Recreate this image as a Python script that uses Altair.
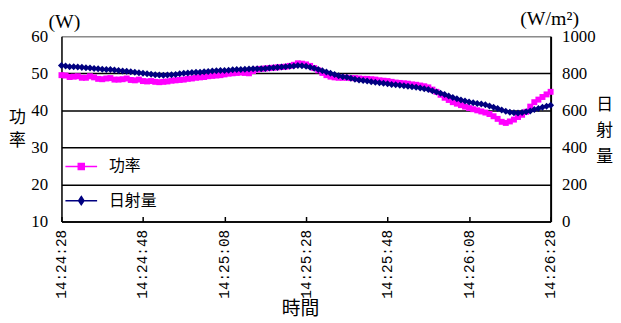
import altair as alt
import pandas as pd

# ---- data ----
tick_labels = ["14:24:28", "14:24:48", "14:25:08", "14:25:28", "14:25:48", "14:26:08", "14:26:28"]
tick_seconds = [0, 20, 40, 60, 80, 100, 120]

power = [
    49.5, 49.4, 49.0, 49.1, 49.2, 48.8, 48.8, 49.2, 48.9, 48.5,
    48.4, 48.6, 48.7, 48.3, 48.3, 48.4, 48.6, 48.2, 48.1, 48.3,
    47.9, 47.8, 47.9, 47.7, 47.6, 47.7, 47.8, 48.0, 48.1, 48.2,
    48.3, 48.5, 48.6, 48.8, 48.9, 49.0, 49.2, 49.3, 49.4, 49.5,
    49.7, 49.9, 50.0, 50.1, 50.2, 50.1, 50.0, 50.6, 51.0, 51.2,
    51.3, 51.4, 51.5, 51.6, 51.7, 51.8, 52.0, 52.3, 52.7, 52.6,
    52.4, 52.0, 51.4, 50.8, 50.1, 49.5, 49.1, 48.9, 48.8, 48.8,
    48.8, 48.7, 48.7, 48.6, 48.5, 48.5, 48.4, 48.3, 48.1, 48.0,
    47.9, 47.7, 47.5, 47.4, 47.3, 47.2, 47.0, 46.9, 46.7, 46.5,
    46.2, 45.6, 45.0, 44.2, 43.4, 42.8, 42.2, 41.8, 41.4, 41.0,
    40.6, 40.3, 40.0, 39.7, 39.4, 39.0, 38.4, 37.7, 36.9, 36.6,
    37.0, 37.5, 38.2, 38.8, 39.6, 41.0, 42.2, 42.9, 43.6, 44.3,
    45.0,
]

irradiance = [
    842, 839, 836, 835, 834, 832, 830, 828, 826, 824,
    822, 821, 820, 818, 815, 813, 811, 808, 805, 803,
    800, 797, 795, 792, 791, 790, 791, 792, 794, 797,
    800, 802, 804, 805, 806, 808, 810, 812, 814, 815,
    815, 817, 819, 820, 821, 822, 823, 824, 825, 825,
    826, 828, 830, 832, 834, 836, 838, 840, 842, 841,
    838, 833, 827, 821, 814, 807, 800, 793, 787, 782,
    778, 773, 768, 764, 761, 758, 755, 752, 749, 746,
    743, 740, 738, 736, 733, 730, 727, 724, 720, 716,
    712, 706, 699, 692, 685, 677, 669, 662, 656, 650,
    645, 641, 637, 634, 630, 624, 617, 610, 602, 595,
    590, 587, 586, 588, 592, 597, 604, 610, 616, 622,
    628,
]

seconds = list(range(len(power)))
series_names = ["功率", "日射量"]
colors = ["#FF00FF", "#000080"]

df = pd.DataFrame({"t": seconds, "power": power, "irr": irradiance})

CJK = "Noto Sans CJK TC"
SERIF = "Liberation Serif"

label_expr = "[" + ",".join("'%s'" % s for s in tick_labels) + "][round(datum.value/20)]"

x_bottom = alt.X(
    "t:Q",
    scale=alt.Scale(domain=[0, 120], nice=False, zero=False),
    axis=alt.Axis(
        values=tick_seconds, labelExpr=label_expr, labelAngle=270, labelAlign="right",
        labelBaseline="middle", labelPadding=8, labelFont="Liberation Mono", labelFontSize=14.5,
        labelColor="black", labelFlush=False, labelOverlap=False, ticks=False, tickSize=0,
        grid=False, domainColor="black", domainWidth=1.5,
        title="時間", titleFont=CJK, titleFontSize=19, titleFontWeight="normal",
        titleColor="black", titleX=241, titleY=88, titleAlign="center", titleBaseline="middle",
    ),
)

x_top_ticks = alt.X(
    "t:Q",
    scale=alt.Scale(domain=[0, 120], nice=False, zero=False),
    axis=alt.Axis(
        orient="top", offset=-187, values=tick_seconds, labels=False, domain=False,
        grid=False, ticks=True, tickSize=5, tickColor="black", tickWidth=1.5, title=None,
    ),
)

y_left = alt.Y(
    "power:Q",
    scale=alt.Scale(domain=[10, 60], nice=False, zero=False),
    axis=alt.Axis(
        orient="left", values=[10, 20, 30, 40, 50, 60], grid=True,
        gridColor=alt.condition("datum.value == 60", alt.value("#8c8c8c"), alt.value("black")),
        gridWidth=1.5, domainColor="black", domainWidth=1.5, ticks=False, tickSize=0,
        labelFont=SERIF, labelFontSize=17, labelColor="black", labelPadding=14, labelFlush=False,
        title=["功", "率"], titleFont=CJK, titleFontSize=17, titleFontWeight="normal",
        titleColor="black", titleAngle=0, titleX=-45, titleY=82, titleAlign="center",
        titleBaseline="middle", titleLineHeight=23,
    ),
)

y_right = alt.Y(
    "irr:Q",
    scale=alt.Scale(domain=[0, 1000], nice=False, zero=False),
    axis=alt.Axis(
        orient="right", values=[0, 200, 400, 600, 800, 1000], format="d", grid=False,
        domainColor="black", domainWidth=2, ticks=False, tickSize=0,
        labelFont=SERIF, labelFontSize=17, labelColor="black", labelPadding=11, labelFlush=False,
        title=["日", "射", "量"], titleFont=CJK, titleFontSize=17, titleFontWeight="normal",
        titleColor="black", titleAngle=0, titleX=54, titleY=69, titleAlign="center",
        titleBaseline="middle", titleLineHeight=26,
    ),
)

left_base = alt.Chart(df).encode(x=x_bottom, y=y_left)
left = alt.layer(
    left_base.mark_line(color=colors[0], strokeWidth=1.5),
    left_base.mark_point(shape="square", filled=True, color=colors[0], size=36, opacity=1),
)

right_base = alt.Chart(df).encode(x=x_top_ticks, y=y_right)
right = alt.layer(
    right_base.mark_line(color=colors[1], strokeWidth=1.5),
    right_base.mark_point(shape="diamond", filled=True, color=colors[1], size=50, opacity=1),
)

sym_paths = [
    "M-1,0L1,0M-0.19,-0.19L0.19,-0.19L0.19,0.19L-0.19,0.19Z",
    "M-1,0L1,0M0,-0.26L0.17,0L0,0.26L-0.17,0Z",
]
legend_y = [114.5, 149]


def legend_layer(i):
    return alt.Chart(alt.Data(values=[{"s": series_names[i]}])).mark_point(
        filled=True, opacity=0, stroke=colors[i], strokeWidth=1.5
    ).encode(
        fill=alt.Fill(
            "s:N",
            scale=alt.Scale(domain=[series_names[i]], range=[colors[i]]),
            legend=alt.Legend(
                orient="none", legendX=3, legendY=legend_y[i], title=None, padding=0,
                symbolType=sym_paths[i], symbolSize=1024, symbolStrokeWidth=1.5,
                symbolStrokeColor=colors[i], symbolOpacity=1, labelFont=CJK, labelFontSize=16,
                labelColor="black", labelOffset=11, rowPadding=1,
            ),
        )
    )


def unit_text(txt, px, py):
    return alt.Chart(alt.Data(values=[{}])).mark_text(
        font=SERIF, fontSize=20, color="black", align="center", baseline="middle"
    ).encode(x=alt.value(px), y=alt.value(py), text=alt.value(txt))


chart = alt.layer(
    left, right, legend_layer(0), legend_layer(1),
    unit_text("(W)", 3, -14), unit_text("(W/m²)", 493, -17),
).resolve_scale(
    y="independent", fill="independent"
).resolve_axis(
    x="independent", y="independent"
).resolve_legend(
    fill="independent"
).properties(
    width=494, height=187,
    padding={"left": 54, "top": 27, "right": 63, "bottom": 98},
    autosize=alt.AutoSizeParams(type="none"),
).configure_view(stroke=None).configure(background="white")

chart.save("out.html", embed_options={"renderer": "svg", "actions": False})
